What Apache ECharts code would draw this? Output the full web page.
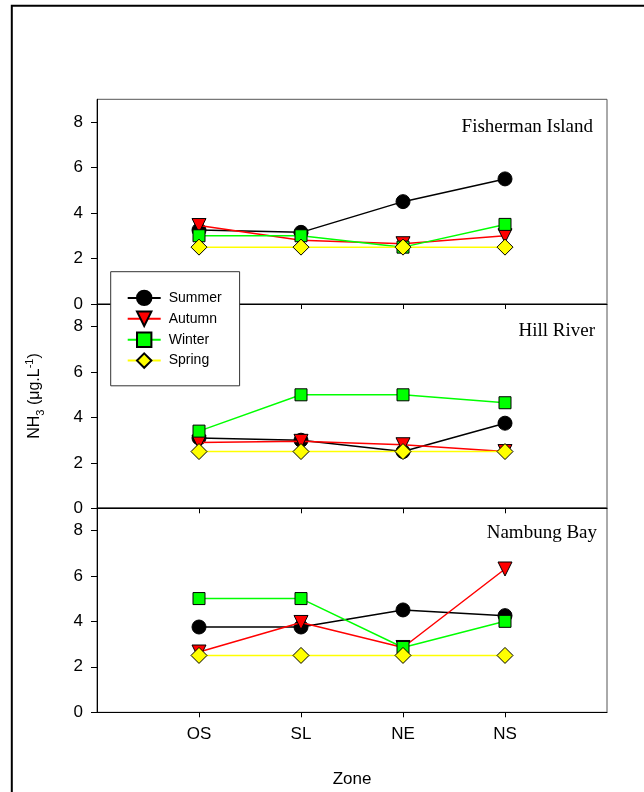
<!DOCTYPE html>
<html>
<head>
<meta charset="utf-8">
<script src="https://cdn.jsdelivr.net/npm/echarts@6/dist/echarts.min.js"></script>
<style>html,body{margin:0;padding:0;background:#fff}#c{width:644px;height:792px}</style>
</head>
<body>
<div id="c"></div>
<script>
var zones = ['OS', 'SL', 'NE', 'NS'];
var seasons = ['Summer', 'Autumn', 'Winter', 'Spring'];
var panelNames = ['Fisherman Island', 'Hill River', 'Nambung Bay'];
var yTicks = [0, 2, 4, 6, 8];

var fishermanSummer = [3.25, 3.15, 4.5, 5.5];
var fishermanAutumn = [3.45, 2.8, 2.65, 3.0];
var fishermanWinter = [3.0, 3.0, 2.5, 3.5];
var fishermanSpring = [2.5, 2.5, 2.5, 2.5];

var hillSummer = [3.1, 3.0, 2.5, 3.75];
var hillAutumn = [2.9, 2.95, 2.8, 2.5];
var hillWinter = [3.4, 5.0, 5.0, 4.65];
var hillSpring = [2.5, 2.5, 2.5, 2.5];

var nambungSummer = [3.75, 3.75, 4.5, 4.25];
var nambungAutumn = [2.65, 3.95, 2.85, 6.3];
var nambungWinter = [5.0, 5.0, 2.85, 4.0];
var nambungSpring = [2.5, 2.5, 2.5, 2.5];

var panelData = [
  [fishermanSummer, fishermanAutumn, fishermanWinter, fishermanSpring],
  [hillSummer, hillAutumn, hillWinter, hillSpring],
  [nambungSummer, nambungAutumn, nambungWinter, nambungSpring]
];

var FONT = 'Liberation Sans, Arial, sans-serif';
var seasonStyle = [
  {symbol: 'circle', size: 14, rotate: 0, fill: '#000000', line: '#000000'},
  {symbol: 'triangle', size: 14, rotate: 180, fill: '#ff0000', line: '#ff0000'},
  {symbol: 'rect', size: 12, rotate: 0, fill: '#00ff00', line: '#00ff00'},
  {symbol: 'diamond', size: 16, rotate: 0, fill: '#ffff00', line: '#ffff00'}
];

var gridTops = [99.3, 304, 507.6];
var gridHeights = [204.7, 204.3, 204.7];
var labelPos = [[593, 127], [595, 331], [597, 533]];

var grids = [], xAxes = [], yAxes = [], series = [], graphics = [];
for (var g = 0; g < 3; g++) {
  grids.push({left: 97, right: 37, top: gridTops[g], height: gridHeights[g],
    show: true, borderColor: '#555', borderWidth: 1, backgroundColor: 'transparent'});
  xAxes.push({
    type: 'value', gridIndex: g, min: 0, max: 5,
    axisLine: {show: true, onZero: false, lineStyle: {color: '#000', width: 1}},
    axisTick: {show: true, length: 5, customValues: [1, 2, 3, 4], lineStyle: {color: '#000'}},
    axisLabel: {show: g === 2, customValues: [1, 2, 3, 4], margin: 14,
      fontSize: 17, color: '#000', fontFamily: FONT,
      formatter: function (v) { return zones[Math.round(v) - 1] || ''; }},
    splitLine: {show: false},
    name: g === 2 ? 'Zone' : '', nameLocation: 'middle', nameGap: 59,
    nameTextStyle: {fontSize: 17, color: '#000', fontFamily: FONT}
  });
  yAxes.push({
    type: 'value', gridIndex: g, min: 0, max: 9, interval: 2,
    axisLine: {show: true, lineStyle: {color: '#000', width: 1}},
    axisTick: {show: true, length: 6, customValues: yTicks, lineStyle: {color: '#000'}},
    axisLabel: {customValues: yTicks, margin: 14, fontSize: 17, color: '#000', fontFamily: FONT},
    splitLine: {show: false}
  });
  for (var s = 0; s < 4; s++) {
    var st = seasonStyle[s];
    series.push({
      type: 'line', name: seasons[s], xAxisIndex: g, yAxisIndex: g,
      data: panelData[g][s].map(function (v, i) { return [i + 1, v]; }),
      symbol: st.symbol, symbolSize: st.size, symbolRotate: st.rotate,
      showAllSymbol: true,
      lineStyle: {color: st.line, width: 1.5},
      itemStyle: {color: st.fill, borderColor: '#000', borderWidth: 1},
      emphasis: {disabled: true},
      z: 3 + s,
      animation: false
    });
  }
  graphics.push({type: 'text', x: labelPos[g][0], y: labelPos[g][1], z: 100,
    style: {text: panelNames[g], align: 'right', verticalAlign: 'middle',
      fontSize: 19, fontFamily: 'Liberation Serif, Times New Roman, serif', fill: '#000'}});
}

graphics.push({type: 'rect', z: 100, shape: {x: 11.8, y: 5.8, width: 800, height: 900},
  style: {fill: 'none', stroke: '#000', lineWidth: 2}});
graphics.push({type: 'text', x: 35, y: 396, rotation: Math.PI / 2, z: 100,
  style: {text: '{a|NH}{s|3}{a| (μg.L}{p|-1}{a|)}', align: 'center', verticalAlign: 'middle',
    rich: {
      a: {fontSize: 16, lineHeight: 22, fontFamily: FONT, fill: '#000', color: '#000'},
      s: {fontSize: 11, lineHeight: 11, verticalAlign: 'bottom', fontFamily: FONT, color: '#000'},
      p: {fontSize: 11, lineHeight: 11, verticalAlign: 'top', fontFamily: FONT, color: '#000'}
    }}});

var chart = echarts.init(document.getElementById('c'), null, {renderer: 'canvas'});
chart.setOption({
  animation: false,
  backgroundColor: '#fff',
  grid: grids,
  xAxis: xAxes,
  yAxis: yAxes,
  series: series,
  legend: {
    data: seasons, orient: 'vertical', left: 110.7, top: 271.7,
    itemWidth: 33, itemHeight: 18, itemGap: 4.5,
    padding: [18, 18, 17, 16],
    backgroundColor: '#fff', borderColor: '#333', borderWidth: 1,
    textStyle: {fontSize: 14, color: '#000', fontFamily: FONT, padding: [0, 0, 0, 3]},
    selectedMode: false, z: 50
  },
  graphic: graphics
});
</script>
</body>
</html>
